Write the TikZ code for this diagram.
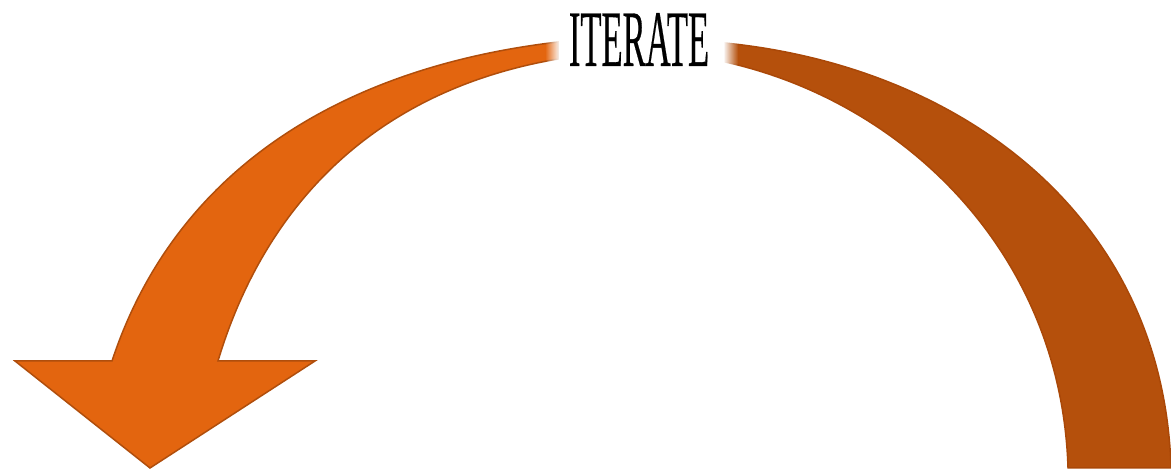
\documentclass[tikz,border=0pt]{standalone}
\usepackage{fontspec}
\setmainfont{Liberation Serif}
\newfontfamily\labelfont[FakeBold=0.5]{Liberation Serif}
\usetikzlibrary{fadings}
\definecolor{lfill}{RGB}{227,101,15}
\definecolor{ledge}{RGB}{176,78,12}
\definecolor{rfill}{RGB}{181,80,12}
\definecolor{redge}{RGB}{170,72,8}
\tikzset{
  leftarm/.style={fill=lfill,draw=ledge,line width=0.75pt,line join=miter},
  rightarm/.style={fill=rfill,draw=redge,line width=0.75pt},
  label/.style={inner sep=0pt,font=\labelfont\fontsize{40}{40}\selectfont}
}
\begin{document}
\begin{tikzpicture}[x=0.5pt,y=-0.5pt]
\useasboundingbox (0,0) rectangle (1171,474);
% left arm with arrow head
\path[leftarm] (558,42) .. controls (340,67.5) and (174.7,171) .. (112,361)
  -- (15,361) -- (150,468) -- (315,361) -- (218,361)
  .. controls (260,221) and (360,93) .. (558,59) -- cycle;
% right arm
\path[rightarm] (725,43) .. controls (964,67) and (1163.5,218) .. (1171,468)
  -- (1068,468)
  .. controls (1061.5,253) and (904,101.6) .. (725,62) -- cycle;
% soft ends near the label
\fill[white,path fading=west] (545,34) rectangle (560,72);
\fill[white,path fading=east] (723,34) rectangle (738,72);
\node[label] (t) at (639,39.5) {\scalebox{0.432}[1]{ITERATE}};
\end{tikzpicture}
\end{document}
